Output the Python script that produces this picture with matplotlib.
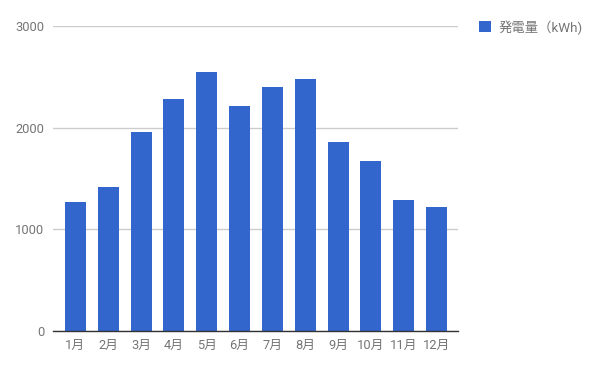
import matplotlib
matplotlib.use("Agg")
import matplotlib.pyplot as plt
from matplotlib.patches import Patch

plt.rcParams['font.family'] = ['Roboto', 'Noto Sans CJK JP', 'DejaVu Sans']

months = ['1月', '2月', '3月', '4月', '5月', '6月', '7月', '8月', '9月', '10月', '11月', '12月']
values = [1268, 1413, 1957, 2281, 2547, 2212, 2399, 2478, 1858, 1672, 1288, 1219]
series_name = '発電量（kWh)'
yticks = [0, 1000, 2000, 3000]

bar_color = '#3366CC'
text_color = '#757575'

fig = plt.figure(figsize=(6.0, 3.71), dpi=100)
ax = fig.add_axes([0.0878, 0.1078, 0.6760, 0.8222])

x = list(range(len(months)))
ax.bar(x, values, width=0.64, color=bar_color, zorder=3)

ax.set_xlim(-0.69, 11.66)
ax.set_ylim(0, 3000)
ax.set_yticks(yticks)
ax.set_yticklabels([str(v) for v in yticks])
ax.set_xticks(x)
ax.set_xticklabels(months)

ax.grid(axis='y', color='#cccccc', linewidth=1, zorder=0)
ax.set_axisbelow(True)
for s in ['top', 'right', 'left']:
    ax.spines[s].set_visible(False)
ax.spines['bottom'].set_color('#333333')
ax.spines['bottom'].set_linewidth(1)
ax.spines['bottom'].set_zorder(4)

ax.tick_params(axis='both', length=0, labelsize=9.3, colors=text_color)
ax.tick_params(axis='y', pad=6)
ax.tick_params(axis='x', pad=6)

handles = [Patch(facecolor=bar_color, edgecolor='none', label=series_name)]
leg = fig.legend(handles=handles, loc='upper left', bbox_to_anchor=(0.798, 0.946),
                 frameon=False, fontsize=9.6, handlelength=0.9, handleheight=0.9,
                 handletextpad=0.55, borderpad=0, borderaxespad=0)
for t in leg.get_texts():
    t.set_color(text_color)

fig.savefig('out.png', dpi=100)
